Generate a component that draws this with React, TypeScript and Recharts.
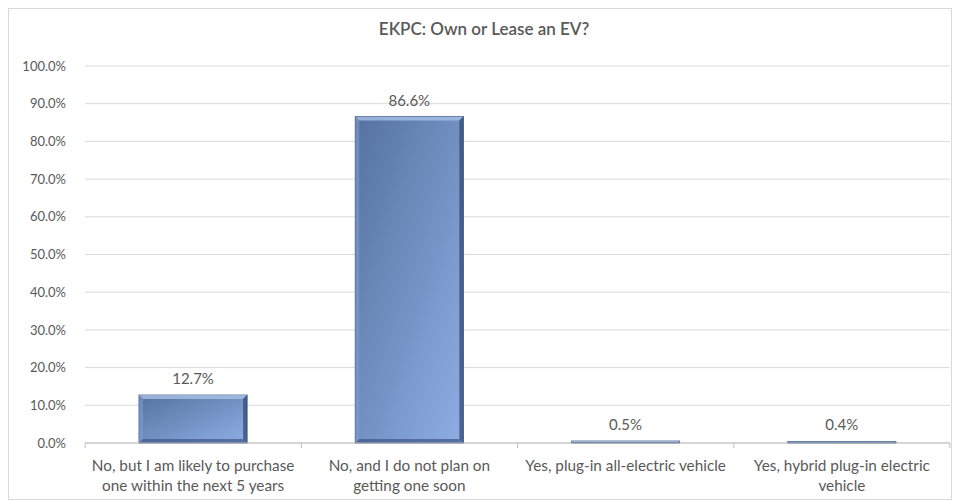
import React from "react";
import { BarChart, Bar, XAxis, YAxis, CartesianGrid, LabelList } from "recharts";

const categories = [
  "No, but I am likely to purchase one within the next 5 years",
  "No, and I do not plan on getting one soon",
  "Yes, plug-in all-electric vehicle",
  "Yes, hybrid plug-in electric vehicle",
];
const labelLines = [
  ["No, but I am likely to purchase", "one within the next 5 years"],
  ["No, and I do not plan on", "getting one soon"],
  ["Yes, plug-in all-electric vehicle"],
  ["Yes, hybrid plug-in electric", "vehicle"],
];
const values = [12.7, 86.6, 0.5, 0.4];
const yTicks = [0, 10, 20, 30, 40, 50, 60, 70, 80, 90, 100];

const data = categories.map((c, i) => ({ name: c, value: values[i], idx: i }));

const FONT = "Lato, 'Open Sans', sans-serif";
const TXT = "#595959";

const XTick = (props: any) => {
  const { x, y, payload, index } = props;
  const half = 108;
  const lines = labelLines[payload.index ?? index] || [payload.value];
  return (
    <g>
      <line x1={x - half} y1={y - 8} x2={x - half} y2={y - 3} stroke="#bfbfbf" />
      {index === categories.length - 1 && (
        <line x1={x + half} y1={y - 8} x2={x + half} y2={y - 3} stroke="#bfbfbf" />
      )}
      <text x={x} y={y + 20} textAnchor="middle" fill={TXT} fontSize={15.3} fontFamily={FONT}>
        {lines.map((l: string, i: number) => (
          <tspan key={i} x={x} dy={i === 0 ? 0 : 20}>
            {l}
          </tspan>
        ))}
      </text>
    </g>
  );
};

const BevelBar = (props: any) => {
  const { x, y, width, height } = props;
  if (height <= 0) return null;
  const b = Math.min(4, height / 2);
  return (
    <g>
      <rect x={x} y={y} width={width} height={height} fill="url(#barGrad)" stroke="#3f5a85" strokeWidth={1} />
      <polygon
        points={`${x},${y} ${x + width},${y} ${x + width - b},${y + b} ${x + b},${y + b}`}
        fill="#a9c0e6"
        opacity={0.8}
      />
      <polygon
        points={`${x + width},${y} ${x + width},${y + height} ${x + width - b},${y + height - b} ${x + width - b},${y + b}`}
        fill="#2f4670"
        opacity={0.7}
      />
      <polygon
        points={`${x},${y} ${x + b},${y + b} ${x + b},${y + height - b} ${x},${y + height}`}
        fill="#7d9ccc"
        opacity={0.6}
      />
      <polygon
        points={`${x},${y + height} ${x + b},${y + height - b} ${x + width - b},${y + height - b} ${x + width},${y + height}`}
        fill="#3d5786"
        opacity={0.7}
      />
    </g>
  );
};

export default function App() {
  return (
    <div style={{ position: "absolute", left: 0, top: 0, width: 954, height: 503, background: "#fff" }}>
      <div
        style={{
          position: "absolute",
          left: 8,
          top: 8,
          width: 944,
          height: 492,
          border: "1px solid #d9d9d9",
          boxSizing: "border-box",
        }}
      />
      <div
        style={{
          position: "absolute",
          left: 0,
          top: 18,
          width: 954,
          textAlign: "center",
          fontFamily: FONT,
          fontSize: 17,
          fontWeight: 600,
          color: "#595959",
          paddingLeft: 14,
          boxSizing: "border-box",
        }}
      >
        EKPC: Own or Lease an EV?
      </div>
      <div style={{ position: "absolute", left: 0, top: 0 }}>
        <BarChart
          width={954}
          height={503}
          data={data}
          margin={{ top: 66, right: 4, bottom: 0, left: 0 }}
          barCategoryGap="25%"
        >
          <defs>
            <linearGradient id="barGrad" x1="0" y1="0" x2="1" y2="1">
              <stop offset="0%" stopColor="#55729f" />
              <stop offset="100%" stopColor="#8eaee4" />
            </linearGradient>
          </defs>
          <CartesianGrid vertical={false} stroke="#d9d9d9" />
          <YAxis
            type="number"
            domain={[0, 100]}
            ticks={yTicks}
            width={85}
            axisLine={false}
            tickLine={false}
            tickMargin={13}
            tickFormatter={(v: number) => `${v.toFixed(1)}%`}
            tick={{ fill: TXT, fontSize: 13, fontFamily: FONT }}
            interval={0}
          />
          <XAxis
            dataKey="name"
            axisLine={{ stroke: "#bfbfbf" }}
            tickLine={false}
            interval={0}
            tick={<XTick />}
            height={60}
          />
          <Bar dataKey="value" shape={<BevelBar />} isAnimationActive={false}>
            <LabelList
              dataKey="value"
              position="top"
              offset={11}
              formatter={(v: number) => `${v.toFixed(1)}%`}
              style={{ fill: TXT, fontSize: 15, fontFamily: FONT }}
            />
          </Bar>
        </BarChart>
      </div>
    </div>
  );
}
